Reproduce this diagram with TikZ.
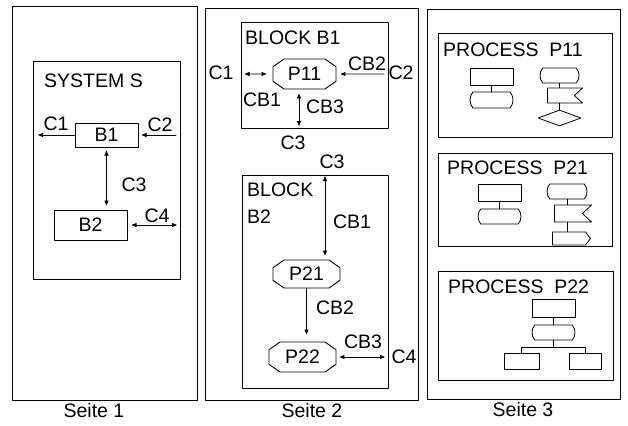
\documentclass[tikz,border=0pt]{standalone}
\usepackage{fontspec}
\setmainfont{Liberation Sans}
\usetikzlibrary{arrows.meta,shapes.misc,shapes.geometric,shapes.symbols}

\tikzset{
  box/.style 2 args={draw,line width=1pt,minimum width=#1,minimum height=#2},
  proc/.style 2 args={draw,line width=0.9pt,chamfered rectangle,chamfered rectangle xsep=6pt,
    chamfered rectangle angle=55,minimum width=#1,minimum height=#2},
  term/.style 2 args={draw,line width=0.8pt,rounded rectangle,rounded rectangle arc length=80,
    minimum width=#1,minimum height=#2},
  act/.style 2 args={draw,line width=0.8pt,minimum width=#1,minimum height=#2},
  flag/.style 2 args={draw,line width=0.8pt,signal,signal to=nowhere,signal from=east,
    signal pointer angle=86,minimum width=#1,minimum height=#2},
  goon/.style 2 args={draw,line width=0.8pt,signal,signal to=east,signal pointer angle=105,
    minimum width=#1,minimum height=#2},
  arr/.style={line width=0.8pt,-{Triangle[length=5pt,width=4pt]}},
  dbl/.style={line width=0.8pt,{Triangle[length=5pt,width=4pt]}-{Triangle[length=5pt,width=4pt]}},
  title/.style={anchor=west}
}

\begin{document}
\begin{tikzpicture}[line cap=round,line join=round,x=1pt,y=-1pt,
    every node/.append style={inner sep=0pt,font=\fontsize{19.5}{23}\selectfont}]
  \useasboundingbox (0,0) rectangle (628,425);

  %% pages
  \node[box={185pt}{393pt}] (page1) at (104.5,203.5) {};
  \node[box={213pt}{391pt}] (page2) at (311.5,204.5) {};
  \node[box={193pt}{389pt}] (page3) at (523.5,204.5) {};
  \node (seite1) at (94,411) {Seite 1};
  \node (seite2) at (312,411) {Seite 2};
  \node (seite3) at (523,410) {Seite 3};

  %% Seite 1
  \node[box={147pt}{217pt}] (sys) at (106.5,170.5) {};
  \node[title] (systitle) at (44,81) {SYSTEM S};
  \node[box={63pt}{24pt}] (b1) at (106.5,135) {B1};
  \node[box={73pt}{30pt}] (b2) at (90.5,225) {B2};
  \coordinate (c1end) at (38,135);
  \coordinate (c2start) at (176,135);
  \coordinate (c4end) at (177,225);
  \draw[arr] (b1) -- (c1end);
  \draw[arr,shorten >=3pt] (c2start) -- (b1);
  \draw[dbl,shorten <=3pt,shorten >=4pt] (b1.south) -- (b1.south |- b2.north);
  \draw[dbl,shorten <=4pt] (b2.east) -- (c4end);
  \node (lc1) at (56,124) {C1};
  \node (lc2) at (160,125) {C2};
  \node (lc3) at (134,185) {C3};
  \node (lc4) at (157,216) {C4};

  %% Seite 2
  \node[box={147pt}{105pt}] (blk1) at (314.5,75.5) {};
  \node[title] (blk1title) at (245,38) {BLOCK B1};
  \node[proc={63pt}{30pt}] (p11) at (304.5,74) {P11};
  \coordinate (cb2start) at (384,74);
  \coordinate (cb3end) at (299,126);
  \draw[dbl,shorten <=4pt,shorten >=6pt] (blk1.west |- p11) -- (p11);
  \draw[arr,shorten >=4pt] (cb2start) -- (p11);
  \draw[dbl,shorten <=4pt] (p11.south -| cb3end) -- (cb3end);
  \node (l2c1) at (221,73) {C1};
  \node (l2cb2) at (367,64) {CB2};
  \node (l2c2) at (401,73) {C2};
  \node (l2cb1) at (262,100) {CB1};
  \node (l2cb3) at (325,107) {CB3};
  \node (l2c3) at (293,143) {C3};

  \node[box={146pt}{213pt}] (blk2) at (315,281.5) {};
  \node[title] (blk2title) at (247,190) {BLOCK};
  \node[title] (blk2name) at (247,217) {B2};
  \node[proc={67pt}{28pt}] (p21) at (306.5,274) {P21};
  \node[proc={67pt}{30pt}] (p22) at (302.5,357) {P22};
  \coordinate (cb1top) at (325,176);
  \coordinate (cb3right) at (385,357);
  \draw[dbl,shorten >=4pt] (cb1top) -- (cb1top |- p21.north);
  \draw[arr,shorten >=7pt] (p21.south) -- (p21.south |- p22.north);
  \draw[dbl,shorten <=3pt] (p22.east) -- (cb3right);
  \node (l2c3b) at (332,162) {C3};
  \node (l2cb1b) at (352,222) {CB1};
  \node (l2cb2b) at (335,308) {CB2};
  \node (l2cb3b) at (363,342) {CB3};
  \node (l2c4) at (404,357) {C4};

  %% Seite 3
  \node[box={174pt}{103pt}] (pr1) at (525,85.5) {};
  \node[title] (pr1title) at (443,50) {PROCESS\ \ P11};
  \node[act={43pt}{17pt}] (r1) at (491.5,76.5) {};
  \node[term={43pt}{16pt}] (t1) at (491.5,100) {};
  \node[term={39pt}{15pt}] (t2) at (559.5,75.5) {};
  \node[flag={35pt}{15pt}] (f1) at (561,95.5) {};
  \node[draw,line width=0.8pt,diamond,minimum width=43pt,minimum height=16pt] (d1) at (559.5,118) {};
  \draw[line width=0.8pt] (r1) -- (t1);
  \draw[line width=0.8pt] (t2) -- (t2 |- f1.north);
  \draw[line width=0.8pt] (t2 |- f1.south) -- (d1);

  \node[box={174pt}{93pt}] (pr2) at (525,199.5) {};
  \node[title] (pr2title) at (447,168) {PROCESS\ \ P21};
  \node[act={43pt}{17pt}] (r2) at (499.5,192.5) {};
  \node[term={43pt}{15pt}] (t3) at (499.5,216.5) {};
  \node[term={40pt}{15pt}] (t4) at (567,191.5) {};
  \node[flag={37pt}{17pt}] (f2) at (568.5,213.5) {};
  \node[goon={38pt}{13pt}] (g2) at (569,238.5) {};
  \draw[line width=0.8pt] (r2) -- (t3);
  \draw[line width=0.8pt] (t4) -- (t4 |- f2.north);
  \draw[line width=0.8pt] (t4 |- f2.south) -- (t4 |- g2.north);

  \node[box={175pt}{109pt}] (pr3) at (525.5,325.5) {};
  \node[title] (pr3title) at (448,287) {PROCESS\ \ P22};
  \node[act={43pt}{18pt}] (r3) at (553.5,308) {};
  \node[term={43pt}{15pt}] (t5) at (553.5,332.5) {};
  \node[act={35pt}{16pt}] (l3) at (521.5,361) {};
  \node[act={32pt}{16pt}] (r4) at (585,361) {};
  \coordinate (fork) at (553.5,347);
  \draw[line width=0.8pt] (r3) -- (t5);
  \draw[line width=0.8pt] (t5) -- (fork);
  \draw[line width=0.8pt] (fork) -| (l3);
  \draw[line width=0.8pt] (fork) -| (r4);
\end{tikzpicture}
\end{document}
